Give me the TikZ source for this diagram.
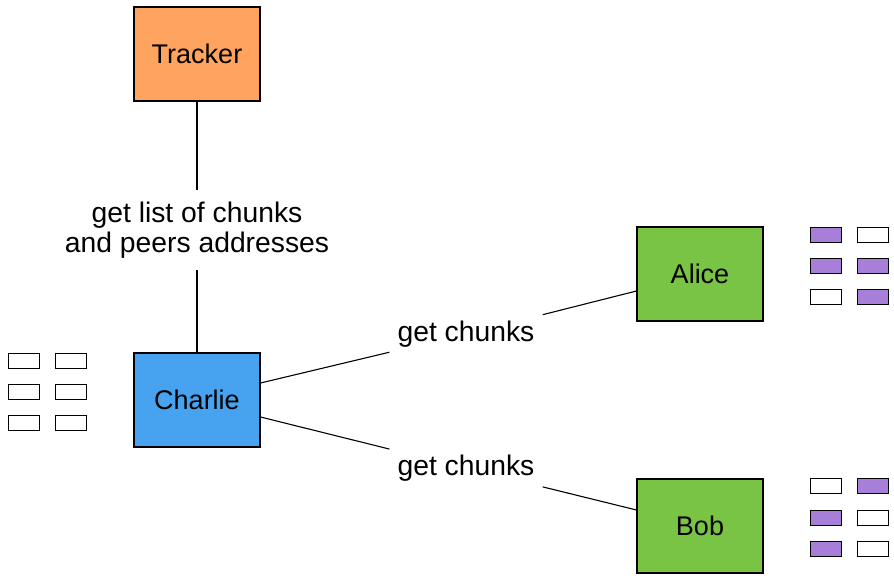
\documentclass[tikz,border=0pt]{standalone}
\usepackage{fontspec}
\setmainfont{Liberation Sans}
\definecolor{trackc}{RGB}{255,164,94}
\definecolor{charc}{RGB}{71,162,240}
\definecolor{peerc}{RGB}{122,196,69}
\definecolor{chunkc}{RGB}{168,127,216}
\begin{document}
\begin{tikzpicture}[x=1pt,y=-1pt,
  peer/.style={draw=black,line width=1.1pt,minimum width=126pt,minimum height=94pt,inner sep=0pt,font=\fontsize{27}{30}\selectfont},
  lbl/.style={fill=white,inner xsep=8pt,inner ysep=9pt,align=center,font=\fontsize{28.3}{30}\selectfont},
  chunk/.style={draw=black,line width=1.6pt,minimum width=31pt,minimum height=15pt,inner sep=0pt,fill=white},
  full/.style={chunk,fill=chunkc},
  link/.style={line width=1.1pt}]
\useasboundingbox (0,0) rectangle (894,579);
\node[peer,fill=trackc] (tracker) at (197,54) {Tracker};
\node[peer,fill=charc] (charlie) at (197,400) {Charlie};
\node[peer,fill=peerc] (alice) at (700,274) {Alice};
\node[peer,fill=peerc] (bob) at (700,526) {Bob};
\node[lbl,inner ysep=12pt] (lt) at (197,230) {get list of chunks\\and peers addresses};
\node[lbl] (la) at (466,334) {get chunks};
\node[lbl] (lb) at (466,468) {get chunks};
\draw[link] (tracker) -- (lt);
\draw[link] (lt) -- (charlie);
\draw[link] ([yshift=17pt]charlie.east) -- (la);
\draw[link] (la) -- ([yshift=-17pt]alice.west);
\draw[link] ([yshift=-17pt]charlie.east) -- (lb);
\draw[link] (lb) -- ([yshift=16pt]bob.west);
% Charlie chunks
\node[chunk] (c11) at (24,361) {};
\node[chunk] (c12) at (71,361) {};
\node[chunk] (c21) at (24,392) {};
\node[chunk] (c22) at (71,392) {};
\node[chunk] (c31) at (24,423) {};
\node[chunk] (c32) at (71,423) {};
% Alice chunks
\node[full] (a11) at (826,235) {};
\node[chunk] (a12) at (873,235) {};
\node[full] (a21) at (826,266) {};
\node[full] (a22) at (873,266) {};
\node[chunk] (a31) at (826,297) {};
\node[full] (a32) at (873,297) {};
% Bob chunks
\node[chunk] (b11) at (826,486) {};
\node[full] (b12) at (873,486) {};
\node[full] (b21) at (826,518) {};
\node[chunk] (b22) at (873,518) {};
\node[full] (b31) at (826,549) {};
\node[chunk] (b32) at (873,549) {};
\end{tikzpicture}
\end{document}
